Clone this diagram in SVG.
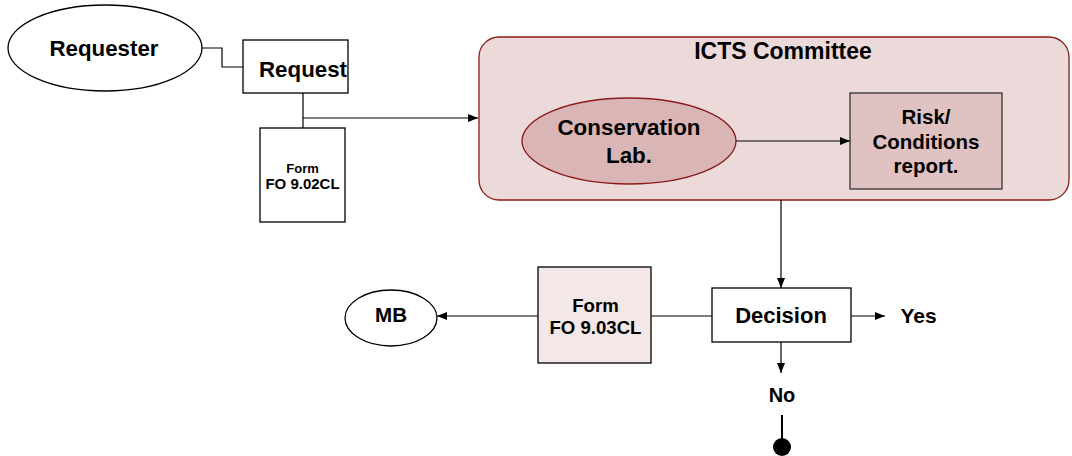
<svg xmlns="http://www.w3.org/2000/svg" width="1072" height="456" viewBox="0 0 1072 456">
<style>
text{font-family:"Liberation Sans",Arial,sans-serif;font-weight:bold;fill:#000;text-anchor:middle}
.ln{fill:none;stroke:#000;stroke-width:1.2}
.box{fill:#fff;stroke:#000;stroke-width:1.3}
</style>
<defs>
<marker id="ah" viewBox="0 0 10 10" refX="10" refY="5" markerWidth="10" markerHeight="10" markerUnits="userSpaceOnUse" orient="auto">
<path d="M0,1 L10,5 L0,9 Z" fill="#000"/>
</marker>
</defs>
<rect width="1072" height="456" fill="#fff"/>
<g id="requester">
<ellipse cx="105" cy="48" rx="97" ry="43" class="box"/>
<text x="104" y="56" font-size="22.3">Requester</text>
</g>
<g id="request">
<rect x="243" y="40" width="105" height="53" class="box"/>
<text x="303" y="77" font-size="22.3">Request</text>
</g>
<g id="form1">
<rect x="260" y="128" width="85" height="94" class="box"/>
<text x="302.5" y="173" font-size="13">Form</text>
<text x="302.5" y="189" font-size="15">FO 9.02CL</text>
</g>
<g id="icts">
<rect x="479" y="37" width="590" height="163" rx="20" ry="20" fill="#ecdada" stroke="#8b1a1a" stroke-width="1.3"/>
<text x="783" y="59" font-size="23">ICTS Committee</text>
</g>
<g id="conservation">
<ellipse cx="629" cy="141" rx="107" ry="43" fill="#d9b5b5" stroke="#8b1a1a" stroke-width="1.3"/>
<text x="629" y="135" font-size="22.4">Conservation</text>
<text x="629" y="163" font-size="22.4">Lab.</text>
</g>
<g id="risk">
<rect x="850" y="93" width="152" height="96" fill="#e0c2c2" stroke="#333" stroke-width="1.3"/>
<text x="926" y="124" font-size="20.5">Risk/</text>
<text x="926" y="149" font-size="20.5">Conditions</text>
<text x="926" y="173" font-size="20.5">report.</text>
</g>
<g id="decision">
<rect x="712" y="288" width="139" height="54" class="box"/>
<text x="781" y="323" font-size="22">Decision</text>
</g>
<g id="yes">
<text x="918.5" y="323" font-size="21">Yes</text>
</g>
<g id="no">
<text x="782" y="402" font-size="20">No</text>
<circle cx="782" cy="447" r="9" fill="#000"/>
</g>
<g id="form2">
<rect x="538" y="267" width="113" height="96" fill="#f3e7e7" stroke="#000" stroke-width="1.3"/>
<text x="595.5" y="312" font-size="18.6">Form</text>
<text x="595.5" y="334" font-size="18.6">FO 9.03CL</text>
</g>
<g id="mb">
<ellipse cx="391" cy="318" rx="46" ry="28" class="box"/>
<text x="391" y="322" font-size="20.6">MB</text>
</g>
<g id="connectors">
<polyline class="ln" points="202,48 222,48 222,67 243,67"/>
<polyline class="ln" points="303,93 303,118 478,118" marker-end="url(#ah)"/>
<line class="ln" x1="303" y1="118" x2="303" y2="128" stroke="#555"/>
<line class="ln" x1="736" y1="141" x2="850" y2="141" marker-end="url(#ah)"/>
<line class="ln" x1="781" y1="200" x2="781" y2="288" marker-end="url(#ah)"/>
<line class="ln" x1="851" y1="316" x2="885" y2="316" marker-end="url(#ah)"/>
<line class="ln" x1="781" y1="342" x2="781" y2="373" marker-end="url(#ah)"/>
<line class="ln" x1="712" y1="316" x2="651" y2="316"/>
<line class="ln" x1="538" y1="316" x2="437" y2="316" marker-end="url(#ah)"/>
<line x1="782" y1="415" x2="782" y2="445" stroke="#000" stroke-width="2"/>
</g>
</svg>
